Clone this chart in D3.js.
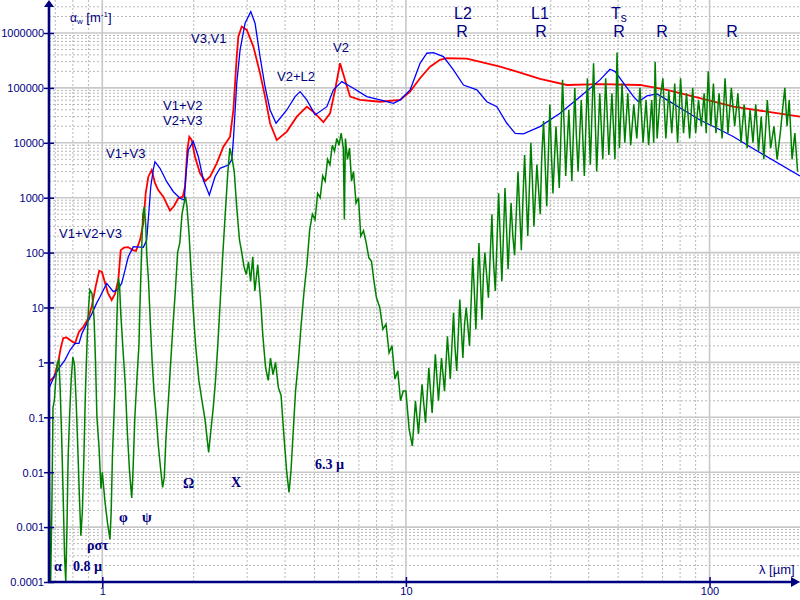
<!DOCTYPE html>
<html><head><meta charset="utf-8">
<script src="https://cdn.jsdelivr.net/npm/d3@7"></script>
<style>body{margin:0;background:#fff}svg{display:block}</style>
</head><body><svg id="c" width="800" height="600"></svg>
<script>
// ---- data (λ in µm, α in m^-1) ----
const redData = [[0.667,0.44],[0.695,0.55],[0.716,1.03],[0.731,1.92],[0.744,2.77],[0.763,2.85],[0.789,2.48],[0.813,2.22],[0.838,3.61],[0.866,4.45],[0.893,5.9],[0.923,10.3],[0.953,25.6],[0.977,46.7],[0.998,44],[1.021,27.9],[1.044,18.3],[1.074,13.7],[1.101,17.6],[1.129,31.6],[1.15,111],[1.179,123],[1.215,126],[1.262,111],[1.291,107],[1.331,169],[1.365,346],[1.39,1216],[1.418,2414],[1.455,3200],[1.491,1853],[1.528,1380],[1.588,1042],[1.671,580],[1.723,706],[1.779,975],[1.841,1042],[1.873,1585],[1.905,7400],[1.935,12900],[1.97,11250],[2.02,5580],[2.098,2780],[2.18,2010],[2.264,2414],[2.382,4235],[2.505,8490],[2.635,12900],[2.702,39600],[2.737,122000],[2.772,372000],[2.806,860000],[2.879,1310000],[2.991,1140000],[3.145,565000],[3.308,185000],[3.436,69300],[3.569,22700],[3.755,11200],[4.052,16000],[4.371,29900],[4.716,45500],[4.958,36900],[5.348,23700],[5.626,34500],[5.844,92000],[6.07,281000],[6.257,160000],[6.548,69300],[7.063,60400],[8.22,56000],[9.57,60400],[10.32,85500],[11.13,150000],[12.01,244000],[12.95,324000],[13.64,347000],[15.88,341000],[18.0,288000],[20.42,244000],[23.2,198000],[27.65,146000],[33.9,113000],[43.6,117000],[59.0,113000],[72.4,92000],[93.0,64800],[120,45500],[154.6,36900],[198.6,29900]];

const blueData = [[0.667,0.336],[0.698,0.587],[0.725,0.83],[0.753,1.1],[0.783,1.68],[0.813,2.22],[0.838,2.22],[0.857,3.38],[0.89,5.14],[0.925,7.82],[0.958,12],[0.983,15.7],[1.034,27.5],[1.087,19.4],[1.12,20.8],[1.158,27.5],[1.188,48],[1.218,84],[1.265,128],[1.365,125],[1.4,169],[1.425,597],[1.444,1585],[1.472,3200],[1.491,4530],[1.549,3433],[1.63,1955],[1.714,1285],[1.803,975],[1.863,908],[1.877,1828],[1.887,2780],[1.92,7400],[1.994,10500],[2.072,5580],[2.152,2100],[2.252,1120],[2.351,2414],[2.442,3433],[2.601,3944],[2.669,4864],[2.702,11200],[2.772,122000],[2.843,492000],[2.953,1510000],[3.083,2450000],[3.185,1510000],[3.308,372000],[3.436,105000],[3.569,39600],[3.735,22700],[4.052,39600],[4.315,69300],[4.481,85500],[4.716,60400],[5.022,32200],[5.49,45500],[5.77,92000],[6.15,130000],[6.714,98600],[7.43,69300],[8.22,60400],[9.1,52500],[9.57,60400],[10.32,92000],[10.72,160000],[11.13,281000],[11.72,428000],[12.32,439000],[13.29,372000],[14.34,212000],[15.47,113000],[17.13,92000],[18.48,56000],[19.93,45500],[21.5,22700],[22.9,14900],[24.38,14500],[27.65,19700],[32.18,34500],[37.45,69300],[43.58,140000],[47.0,219000],[48.9,198000],[52.1,122000],[56.2,69300],[58.3,56000],[62.2,71300],[67.1,77600],[72.4,60400],[82.1,39600],[93.0,26000],[105.8,18400],[120,12900],[135.9,8490],[198.6,2485]];

const greenData = [[0.667,0.05],[0.671,0.002],[0.676,0.0001],[0.682,0.002],[0.688,0.15],[0.695,0.2],[0.703,0.5],[0.712,1.0],[0.72,1.1],[0.727,0.3],[0.735,0.04],[0.743,0.004],[0.751,0.0003],[0.758,0.0001],[0.765,0.001],[0.772,0.02],[0.78,0.1],[0.79,0.5],[0.80,1.25],[0.81,0.9],[0.82,0.2],[0.83,0.03],[0.84,0.004],[0.85,0.0007],[0.86,0.002],[0.87,0.02],[0.88,0.3],[0.89,2],[0.90,9],[0.91,21],[0.925,18],[0.94,6],[0.95,1],[0.96,0.1],[0.975,0.03],[0.99,0.005],[1.0,0.01],[1.02,0.003],[1.04,0.0012],[1.06,0.0006],[1.07,0.002],[1.08,0.02],[1.10,0.3],[1.11,2],[1.12,10],[1.13,34],[1.14,25],[1.15,8],[1.17,1.7],[1.19,0.4],[1.21,0.05],[1.23,0.01],[1.25,0.0034],[1.26,0.008],[1.28,0.1],[1.30,0.5],[1.32,2],[1.33,10],[1.345,80],[1.36,500],[1.375,680],[1.39,320],[1.40,100],[1.42,30],[1.44,5],[1.46,1],[1.48,0.3],[1.50,0.13],[1.53,0.03],[1.56,0.01],[1.58,0.0053],[1.60,0.008],[1.62,0.04],[1.65,0.2],[1.68,1],[1.71,5],[1.74,20],[1.77,100],[1.80,150],[1.83,500],[1.86,800],[1.88,1050],[1.90,700],[1.93,225],[1.96,48],[1.99,10],[2.03,2],[2.08,0.47],[2.13,0.2],[2.18,0.09],[2.24,0.023],[2.28,0.06],[2.32,0.15],[2.36,0.47],[2.40,2],[2.44,10],[2.49,80],[2.54,500],[2.59,2800],[2.63,8000],[2.67,5600],[2.72,3000],[2.77,700],[2.83,170],[2.88,100],[2.93,55],[2.98,40],[3.03,68],[3.08,30],[3.13,84],[3.18,20],[3.25,60],[3.32,14],[3.38,3],[3.45,0.8],[3.52,0.47],[3.58,1.2],[3.65,0.6],[3.72,1],[3.80,0.35],[3.88,0.25],[3.96,0.05],[4.05,0.01],[4.12,0.0043],[4.18,0.01],[4.25,0.05],[4.33,0.3],[4.42,1],[4.52,5],[4.62,20],[4.72,60],[4.82,260],[4.92,500],[5.02,400],[5.12,1200],[5.22,1000],[5.32,2500],[5.42,2000],[5.52,5000],[5.62,4000],[5.72,9000],[5.82,7000],[5.92,12000],[6.02,9000],[6.12,15000],[6.22,8000],[6.27,400],[6.32,12000],[6.42,5000],[6.52,8000],[6.62,2000],[6.72,3000],[6.85,800],[6.98,1000],[7.10,200],[7.25,250],[7.40,150],[7.55,80],[7.70,70],[7.85,30],[8.00,15],[8.20,10],[8.40,4],[8.60,5],[8.80,1.5],[9.00,2],[9.20,0.5],[9.40,0.7],[9.60,0.2],[9.80,0.3],
[10.0,0.3],[10.25,0.06],[10.5,0.03],[10.75,0.2],[11.0,0.05],[11.15,0.15],[11.3,0.4],[11.6,0.08],[11.9,0.8],[12.05,0.3],[12.2,0.12],[12.5,1.4],[12.8,0.2],[13.1,1.2],[13.25,0.6],[13.4,0.3],[13.7,3],[14.0,0.5],[14.35,8],[14.5,2],[14.7,0.7],[15.05,14],[15.4,1.2],[15.6,5],[15.8,10],[16.2,2],[16.6,80],[16.8,20],[17.0,4],[17.4,150],[17.8,6],[18.0,40],[18.2,100],[18.7,15],[19.2,500],[19.4,80],[19.7,20],[20.2,1200],[20.7,30],[21.0,300],[21.2,1500],[21.7,50],[22.2,800],[22.5,200],[22.8,90],[23.4,3000],[24.0,110],[24.3,1000],[24.6,6000],[25.2,200],[25.8,10000],[26.1,2000],[26.4,300],[27.0,4000],[27.7,500],[28.0,5000],[28.4,25000],[29.1,700],[29.8,50000],[30.1,8000],[30.5,1200],[31.2,20000],[32.0,1500],[32.8,140000],[33.2,20000],[33.6,2500],[34.4,40000],[35.2,2000],[36.0,100000],[36.4,15000],[36.9,3000],[37.8,60000],[38.7,2500],[39.6,150000],[40.5,4000],[41.5,280000],[42.0,30000],[42.5,3000],[43.5,80000],[44.5,5000],[45.5,150000],[46.6,6000],[47.7,80000],[48.8,5000],[49.6,440000],[50.5,8000],[51.5,120000],[52.6,10000],[53.8,80000],[55.0,9000],[56.3,50000],[57.6,12000],[59.0,100000],[60.4,10000],[61.8,60000],[63.0,9000],[64.5,60000],[65.5,10000],[66.2,300000],[67.2,12000],[68.6,60000],[70.2,150000],[71.8,12000],[73.4,90000],[75.1,15000],[76.8,120000],[78.5,10000],[80.3,150000],[82.1,15000],[84.0,80000],[86.0,12000],[88.0,100000],[90.0,15000],[92.0,60000],[94.0,20000],[96.0,80000],[97.5,15000],[99.0,200000],[101,20000],[103,120000],[105,15000],[107.5,80000],[110,12000],[112.5,150000],[115,15000],[118,100000],[121,20000],[124,80000],[127,10000],[130,50000],[133,8000],[136,40000],[139,10000],[142,50000],[145,7000],[148,30000],[151,5000],[155,60000],[159,8000],[163,20000],[167,5000],[171,15000],[174,40000],[177,100000],[180,20000],[183,60000],[187,5000],[191,15000],[195,3000]];

const yTicks = [1e-4,1e-3,1e-2,1e-1,1,10,100,1000,1e4,1e5,1e6];
const yTickLabels = ["0.0001","0.001","0.01","0.1","1","10","100","1000","10000","100000","1000000"];
const xTicks = [1,10,100];
const xTickLabels = ["1","10","100"];

// ---- layout ----
const svg = d3.select("#c");
const L = 49, R = 800, B = 582, T = 0;
const x = d3.scaleLog().domain([0.6675, 198.6]).range([L, R]);
const y = d3.scaleLog().domain([1e-4, 1e6]).range([B, 33]);
const navy = "#000080";

// grid
const g = svg.append("g");
const minorY = [];
for (let d = -4; d <= 6; d++) for (let k = 2; k <= 9; k++) { const v = k * Math.pow(10, d); if (y(v) >= T) minorY.push(v); }
const minorX = [];
for (let d = -1; d <= 2; d++) for (let k = 2; k <= 9; k++) { const v = k * Math.pow(10, d); if (x(v) > L && x(v) < R) minorX.push(v); }
g.selectAll(".my").data(minorY).join("line")
  .attr("x1", L).attr("x2", R).attr("y1", d => y(d)).attr("y2", d => y(d))
  .attr("stroke", "#b8b8b8").attr("stroke-width", 1).attr("stroke-dasharray", "2,2");
g.selectAll(".mx").data(minorX).join("line")
  .attr("x1", d => x(d)).attr("x2", d => x(d)).attr("y1", T).attr("y2", B)
  .attr("stroke", "#b8b8b8").attr("stroke-width", 1).attr("stroke-dasharray", "2,2");
g.selectAll(".Y").data(yTicks).join("line")
  .attr("x1", L).attr("x2", R).attr("y1", d => y(d)).attr("y2", d => y(d))
  .attr("stroke", "#c8c8c8").attr("stroke-width", 1.6);
g.selectAll(".X").data(xTicks).join("line")
  .attr("x1", d => x(d)).attr("x2", d => x(d)).attr("y1", T).attr("y2", B)
  .attr("stroke", "#c8c8c8").attr("stroke-width", 1.6);

// curves
svg.append("clipPath").attr("id", "clip").append("rect")
  .attr("x", L).attr("y", T).attr("width", R - L).attr("height", B - T);
const line = d3.line().x(d => x(d[0])).y(d => y(d[1]));
const cg = svg.append("g").attr("clip-path", "url(#clip)");
cg.append("path").datum(redData).attr("d", line).attr("fill", "none").attr("stroke", "#ff0000").attr("stroke-width", 1.8);
cg.append("path").datum(blueData).attr("d", line).attr("fill", "none").attr("stroke", "#0000ff").attr("stroke-width", 1.3);
cg.append("path").datum(greenData).attr("d", line).attr("fill", "none").attr("stroke", "#008000").attr("stroke-width", 1.5);

// axes
const sans = "Arial, 'Liberation Sans', sans-serif";
const serif = "'Times New Roman', 'Liberation Serif', serif";
const yAxis = d3.axisLeft(y).tickValues(yTicks).tickFormat((d, i) => yTickLabels[i]).tickSize(5).tickPadding(5);
const ya = svg.append("g").attr("transform", `translate(${L},0)`).call(yAxis);
ya.select(".domain").remove();
ya.selectAll(".tick line").attr("x1", 5).attr("x2", -5).attr("stroke", navy).attr("stroke-width", 1.5);
ya.selectAll(".tick text").attr("fill", navy).attr("font-size", 11).attr("font-family", sans).attr("x", -5).attr("dy", "0.35em");

const xAxis = d3.axisBottom(x).tickValues(xTicks).tickFormat((d, i) => xTickLabels[i]).tickSize(5).tickPadding(6);
const xa = svg.append("g").attr("transform", `translate(0,${B})`).call(xAxis);
xa.select(".domain").remove();
xa.selectAll(".tick line").attr("y1", -5).attr("y2", 5).attr("stroke", navy).attr("stroke-width", 1.5);
xa.selectAll(".tick text").attr("fill", navy).attr("font-size", 11).attr("font-family", sans).attr("y", 13).attr("dy", 0);

svg.append("line").attr("x1", L).attr("x2", L).attr("y1", B + 1).attr("y2", 5).attr("stroke", navy).attr("stroke-width", 2.6);
svg.append("line").attr("x1", L - 1).attr("x2", 794).attr("y1", B).attr("y2", B).attr("stroke", navy).attr("stroke-width", 2.6);
svg.append("path").attr("d", `M${L},0 L${L-5},7 L${L+5},7 Z`).attr("fill", navy);
svg.append("path").attr("d", `M800,${B} L791,${B-5} L791,${B+5} Z`).attr("fill", navy);

// text annotations
const small = [["V3,V1",191,43],["V1+V2",163,110],["V2+V3",163,125],["V1+V3",106,158],["V1+V2+V3",59,238],["V2+L2",277,81],["V2",333,52]];
svg.selectAll(".sm").data(small).join("text").attr("x", d => d[1]).attr("y", d => d[2]).text(d => d[0])
  .attr("fill", navy).attr("font-size", 13).attr("font-family", sans);
const big = [["L2",463,19],["R",462,37],["L1",540,19],["R",541,37],["R",619,37],["R",662,37],["R",732,37]];
svg.selectAll(".bg").data(big).join("text").attr("x", d => d[1]).attr("y", d => d[2]).text(d => d[0])
  .attr("fill", navy).attr("font-size", 16).attr("font-family", sans).attr("text-anchor", "middle");
const ts = svg.append("text").attr("x", 611).attr("y", 19).attr("fill", navy).attr("font-family", sans).attr("font-size", 16);
ts.append("tspan").text("T");
ts.append("tspan").text("s").attr("font-size", 12).attr("dy", 3);

const ttl = svg.append("text").attr("x", 70).attr("y", 22).attr("fill", navy).attr("font-family", sans).attr("font-size", 12);
ttl.append("tspan").text("α");
ttl.append("tspan").text("w").attr("font-size", 8).attr("dy", 2);
ttl.append("tspan").text(" [m").attr("font-size", 13).attr("dy", -2);
ttl.append("tspan").text("-1").attr("font-size", 8).attr("dy", -5);
ttl.append("tspan").text("]").attr("font-size", 13).attr("dy", 5);

const bold = [["α",54,571],["0.8 µ",73,571],["ρστ",87,550],["φ",119,522],["ψ",142,522],["Ω",183,488],["X",231,487],["6.3 µ",315,469]];
svg.selectAll(".bd").data(bold).join("text").attr("x", d => d[1]).attr("y", d => d[2]).text(d => d[0])
  .attr("fill", navy).attr("font-size", 14).attr("font-weight", "bold").attr("font-family", serif);

svg.append("text").attr("x", 759).attr("y", 574).text("λ [µm]").attr("fill", navy).attr("font-size", 13).attr("font-family", sans);
</script></body></html>
